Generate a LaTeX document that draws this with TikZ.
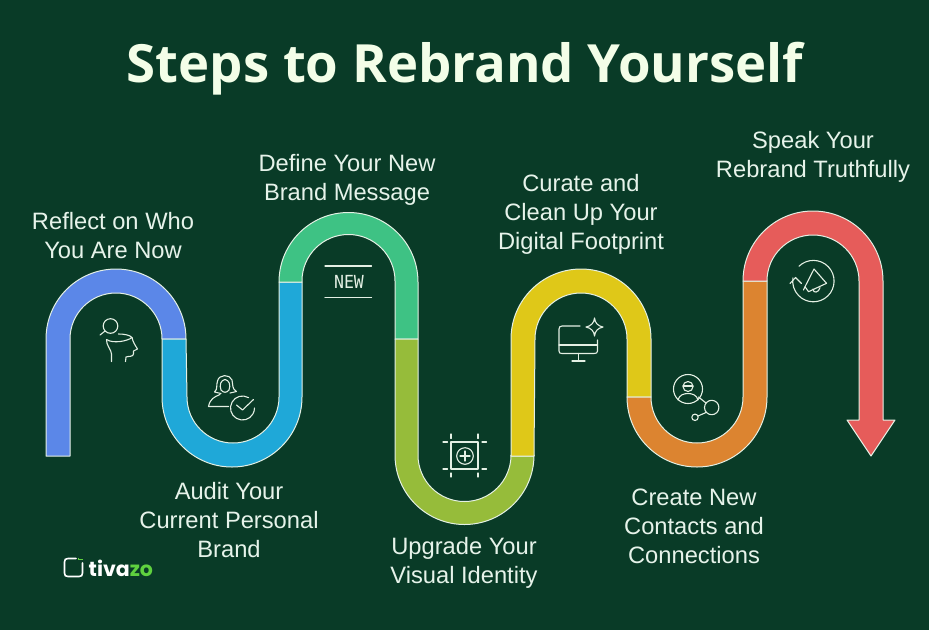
\documentclass[tikz,border=0pt]{standalone}
\usepackage{fontspec}
\setmainfont{Liberation Sans}
\newfontfamily\titlefont{Open Sans}
\newfontfamily\logofont{Poppins}
\newfontfamily\tagfont{DejaVu Sans Mono}
\definecolor{bgdark}{HTML}{093B27}
\definecolor{edgepale}{HTML}{E4F0E4}
\definecolor{textpale}{HTML}{E6F3EA}
\definecolor{titlepale}{HTML}{F3FEE8}
\definecolor{segblue}{HTML}{5B87E8}
\definecolor{segcyan}{HTML}{1FA8D8}
\definecolor{seggreen}{HTML}{3EC284}
\definecolor{segolive}{HTML}{96BC3A}
\definecolor{segyellow}{HTML}{DFC818}
\definecolor{segorange}{HTML}{DC8430}
\definecolor{segred}{HTML}{E65C5A}
\definecolor{logogreen}{HTML}{5FD13F}
\begin{document}
\begin{tikzpicture}[x=1pt,y=-1pt]
\tikzset{seg/.style={draw=edgepale,line width=1pt,line join=round,fill=#1},
  icon/.style={draw=edgepale,line width=1.1pt,line cap=round,line join=round},
  label/.style={text=textpale,align=center,inner sep=0pt,font=\fontsize{23.7}{29}\selectfont}}
\useasboundingbox (0,0) rectangle (929,630);
\fill [bgdark] (0,0) rectangle (929,630);
\node [anchor=base,text=titlepale,inner sep=0pt,font=\titlefont\bfseries\fontsize{52.7}{60}\selectfont] (title) at (465,82) {Steps to Rebrand Yourself};
\draw [seg=segblue] (46,456) -- (46,339) arc (180:360:70) -- (162,339) arc (360:180:46) -- (70,456) -- cycle;
\draw [seg=segcyan] (162,339) -- (162,397) arc (180:0:70) -- (302,282) -- (279,282) -- (279,397) arc (0:180:46) -- (186,339) -- cycle;
\draw [seg=seggreen] (279,282) arc (180:360:69.5) -- (418,339) -- (395,339) -- (395,281) arc (360:180:46.5) -- (302,282) -- cycle;
\draw [seg=segolive] (395,339) -- (395,455) arc (180:0:69.5) -- (534,456) -- (511,456) -- (511,455) arc (0:180:46.5) -- (418,339) -- cycle;
\draw [seg=segyellow] (511,456) -- (511,339) arc (180:360:70) -- (651,397) -- (627,397) -- (627,339) arc (360:180:46) -- (534,456) -- cycle;
\draw [seg=segorange] (627,397) arc (180:0:70) -- (767,281) -- (743,281) -- (743,397) arc (0:180:46) -- (651,397) -- cycle;
\draw [seg=segred] (743,281) arc (180:360:70) -- (883,420) -- (895,420) -- (871,456) -- (847,420) -- (859,420) -- (859,281) arc (360:180:46) -- (767,281) -- cycle;
\node [label] (reflect) at (113,235.5) {Reflect on Who\\You Are Now};
\node [label] (define) at (347,180) {Define Your New\\Brand Message};
\node [label] (audit) at (229,520) {Audit Your\\Current Personal\\Brand};
\node [label] (upgrade) at (464,563) {Upgrade Your\\Visual Identity};
\node [label] (curate) at (581,214.5) {Curate and\\Clean Up Your\\Digital Footprint};
\node [label] (create) at (694,526) {Create New\\Contacts and\\Connections};
\node [label] (speak) at (813,157) {Speak Your\\Rebrand Truthfully};
\draw [icon] (110.5,326) circle (7.3);
\draw [icon] (105,331) -- (100,335);
\draw [icon] (118.5,334) .. controls (124,334) and (130,335) .. (132,337.5) .. controls (128,341) and (113,344) .. (106.5,339.5);
\draw [icon] (106.5,339.5) .. controls (106,345) and (111.5,350) .. (111.5,354) -- (111.5,361.5);
\draw [icon] (132,337.5) .. controls (133,342) and (135,345) .. (137.5,349) -- (133.5,351) -- (133.5,354) .. controls (133.5,357) and (128,356) .. (126,357) -- (125.5,361.5);
\draw [icon] (220,394.5) .. controls (214,397) and (210,399) .. (208.5,406.5) -- (228.5,406.5);
\draw [icon] (214.5,392) .. controls (218,389) and (216,385) .. (217.5,381) .. controls (219,374) and (230,374) .. (232,380) .. controls (233,385) and (232,389) .. (236.5,391.5) -- (230,393) (214.5,392) -- (221,393.5);
\draw [icon] (221,390) .. controls (219,385) and (221,380) .. (225,379.5) .. controls (229,380) and (231,385) .. (229,390) .. controls (227,393) and (223,393) .. (221,390) -- cycle;
\draw [icon] (248.5,397.6) arc (-60:-360:12);
\draw [icon] (236.5,405) -- (242.5,410) -- (253.5,399.5);
\draw [icon] (325,266) -- (371.5,266);
\draw [icon] (325,297.5) -- (371.5,297.5);
\node [xscale=.92,transform shape,text=edgepale,inner sep=0pt,font=\tagfont\fontsize{18}{20}\selectfont] (newtag) at (349,282) {NEW};
\draw [icon] (451,442) rectangle (478,469);
\draw [icon] (451,434) -- (451,438.5);
\draw [icon] (478,434) -- (478,438.5);
\draw [icon] (451,473) -- (451,477);
\draw [icon] (478,473) -- (478,477);
\draw [icon] (443,442) -- (447.5,442);
\draw [icon] (443,469) -- (447.5,469);
\draw [icon] (482,442) -- (486.5,442);
\draw [icon] (482,469) -- (486.5,469);
\draw [icon] (465,456) circle (8.3);
\draw [icon] (460,456) -- (470,456);
\draw [icon] (465,451) -- (465,461);
\draw [icon] (580,326) -- (562,326) .. controls (560,326) and (559,327) .. (559,329) -- (559,351) .. controls (559,353) and (560,353.5) .. (562,353.5) -- (594,353.5) .. controls (596,353.5) and (597.5,353) .. (597.5,351) -- (597.5,340);
\draw [icon] (559,345) -- (597.5,345);
\draw [icon] (578.5,353.5) -- (578.5,361);
\draw [icon] (572,361) -- (585,361);
\draw [icon] (594.5,318) .. controls (595,323) and (598,326) .. (603,327) .. controls (598,328) and (595,331) .. (594.5,336) .. controls (594,331) and (591,328) .. (586,327) .. controls (591,326) and (594,323) .. (594.5,318) -- cycle;
\draw [icon] (688,389) circle (14.5);
\draw [icon] (688,386.5) circle (5);
\draw [icon] (683,386) -- (693,386);
\draw [icon] (678,400) .. controls (679,395) and (684,393.5) .. (688,393.5) .. controls (692,393.5) and (697,395) .. (698,400);
\draw [icon] (698.5,397) -- (706,403);
\draw [icon] (711.7,407.5) circle (7.2);
\draw [icon] (706,412.5) -- (698,416);
\draw [icon] (695,417.3) circle (3.2);
\draw [icon] (799,266.2) arc (226:549:20.7);
\draw [icon] (790,283.5) -- (795.5,277.5) -- (801.5,283.5);
\draw [icon] (814,269) -- (826.5,283.3) -- (808.5,291.7) -- (805,286.7) -- cycle;
\draw [icon] (813,289) .. controls (813,294) and (819,292.5) .. (820,287.7);
\draw [icon] (805,286.7) -- (803.5,290);
\draw [white,line width=1.6pt,line cap=round] (82.5,563) -- (82.5,573) .. controls (82.5,575.5) and (81.5,576.5) .. (79,576.5) -- (68,576.5) .. controls (65.5,576.5) and (64.5,575.5) .. (64.5,573) -- (64.5,562) .. controls (64.5,559.5) and (65.5,558.5) .. (68,558.5) -- (76,558.5);
\draw [logogreen,line width=1.8pt] (78.5,557.5) -- (78.5,559.5) -- (82.5,559.5);
\node [anchor=west,inner sep=0pt,text=white,font=\logofont\bfseries\fontsize{20.5}{24}\selectfont] (logoname) at (88.5,568) {tiva\textcolor{logogreen}{zo}};
\end{tikzpicture}
\end{document}
